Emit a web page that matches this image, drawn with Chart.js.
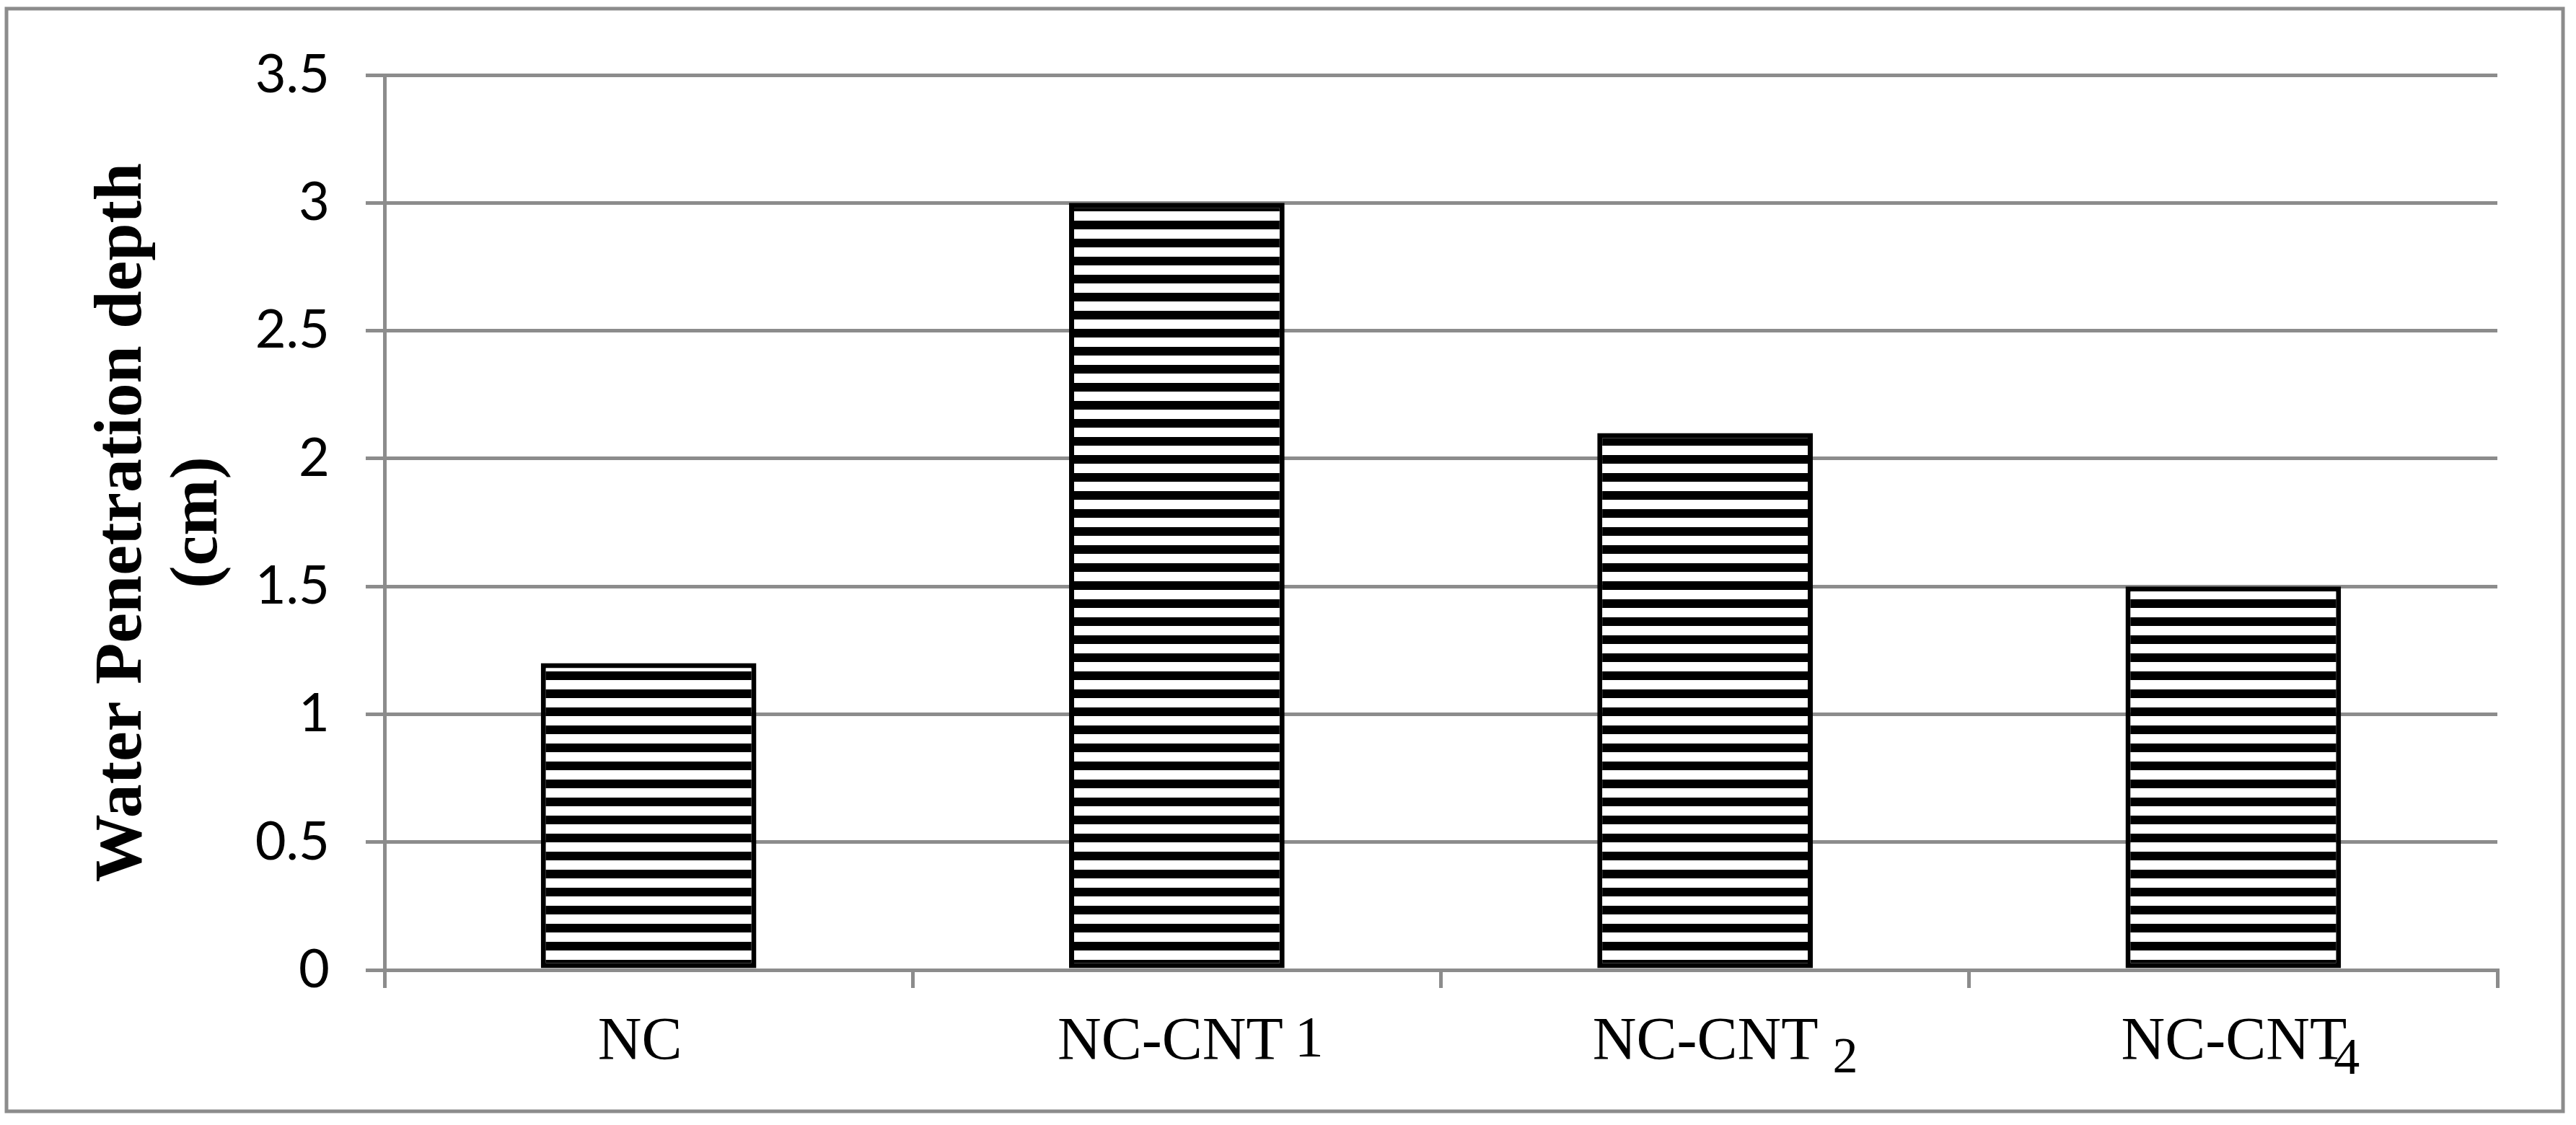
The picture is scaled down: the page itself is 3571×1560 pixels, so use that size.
<!DOCTYPE html>
<html>
<head>
<meta charset="utf-8">
<script src="https://cdn.jsdelivr.net/npm/chart.js@4.4.1/dist/chart.umd.min.js"></script>
<style>
  html, body { margin: 0; padding: 0; background: #fff; }
  #wrap { position: relative; width: 3571px; height: 1560px; }
</style>
</head>
<body>
<div id="wrap"><canvas id="chart"></canvas></div>
<script>
// data
const categories = ['NC', 'NC-CNT', 'NC-CNT', 'NC-CNT'];
const categorySubs = ['', '1', '2', '4'];
const depthValues = [1.2, 3.0, 2.1, 1.5];
const yTickLabels = ['0', '0.5', '1', '1.5', '2', '2.5', '3', '3.5'];
const yTitle = ['Water Penetration depth', '(cm)'];

const GRAY = '#8c8c8c';

// horizontal black/white hatch, 25px period
function stripes(ctx) {
  const c = document.createElement('canvas');
  c.width = 8; c.height = 25;
  const g = c.getContext('2d');
  g.fillStyle = '#fff'; g.fillRect(0, 0, 8, 25);
  g.fillStyle = '#000'; g.fillRect(0, 6, 8, 12);
  return ctx.createPattern(c, 'repeat');
}

// outer frame round the whole chart
const frame = {
  id: 'frame',
  beforeDraw(chart) {
    const { ctx } = chart;
    ctx.save();
    ctx.strokeStyle = GRAY; ctx.lineWidth = 5;
    ctx.strokeRect(9, 12, 3544, 1529);
    ctx.restore();
  },
};

// category labels with their offset digits (NC-CNT 1, NC-CNT 2, NC-CNT4)
const xLabels = {
  id: 'xLabels',
  afterDraw(chart, args, opts) {
    const { ctx } = chart;
    const xs = chart.scales.x;
    ctx.save();
    ctx.fillStyle = '#000'; ctx.textAlign = 'left'; ctx.textBaseline = 'alphabetic';
    categories.forEach((main, i) => {
      const sub = categorySubs[i];
      const st = opts.subs[i] || {};
      const mainFont = `${opts.size}px ${opts.family}`;
      const subFont = `${st.size || opts.size}px ${opts.family}`;
      ctx.font = mainFont;
      const wMain = ctx.measureText(main).width;
      let wSub = 0;
      if (sub) { ctx.font = subFont; wSub = ctx.measureText(sub).width; }
      const total = wMain + (sub ? st.gap + wSub : 0);
      const x0 = xs.getPixelForTick(i) - total / 2 + (opts.dx[i] || 0);
      const base = xs.top + opts.baseline;
      ctx.font = mainFont;
      ctx.fillText(main, x0, base);
      if (sub) {
        ctx.font = subFont;
        ctx.fillText(sub, x0 + wMain + st.gap, base + st.dy);
      }
    });
    ctx.restore();
  },
};

const canvas = document.getElementById('chart');
const ctx = canvas.getContext('2d');

new Chart(ctx, {
  type: 'bar',
  data: {
    labels: categories.map((c, i) => c + categorySubs[i]),
    datasets: [{
      data: depthValues,
      backgroundColor: stripes(ctx),
      borderColor: '#000',
      borderWidth: 7,
      borderSkipped: false,
      categoryPercentage: 1,
      barPercentage: 0.408,
    }],
  },
  options: {
    responsive: true,
    maintainAspectRatio: false,
    animation: false,
    layout: { padding: { left: 0, top: 104, right: 109, bottom: 0 } },
    plugins: {
      legend: { display: false },
      tooltip: { enabled: false },
      xLabels: {
        family: '"Liberation Serif", "Times New Roman", serif',
        size: 84,
        baseline: 124,
        dx: [-12, 19, 28, 10],
        subs: [{}, { size: 80, gap: 16, dy: -4 }, { size: 70, gap: 20, dy: 18 }, { size: 72, gap: -18, dy: 20 }],
      },
    },
    scales: {
      x: {
        ticks: { display: false },
        grid: { display: true, drawOnChartArea: false, drawTicks: true, tickLength: 25, color: GRAY, lineWidth: 5, offset: true },
        border: { display: true, color: GRAY, width: 5, z: 1 },
        afterFit: (s) => { s.height = 215; },
      },
      y: {
        min: 0, max: 3.5,
        ticks: {
          stepSize: 0.5,
          padding: 50,
          color: '#000',
          font: { family: 'Lato', size: 74 },
          callback: (v, i) => yTickLabels[i],
        },
        grid: { color: GRAY, lineWidth: 5, tickLength: 26, drawTicks: true },
        border: { display: true, color: GRAY, width: 5 },
        title: {
          display: true,
          text: yTitle,
          color: '#000',
          font: { family: '"Liberation Serif", "Times New Roman", serif', size: 94, weight: 'bold', lineHeight: 1.12 },
          padding: { top: 118, bottom: 0 },
        },
        afterFit: (s) => { s.width = 533; },
      },
    },
  },
  plugins: [frame, xLabels],
});
</script>
</body>
</html>
